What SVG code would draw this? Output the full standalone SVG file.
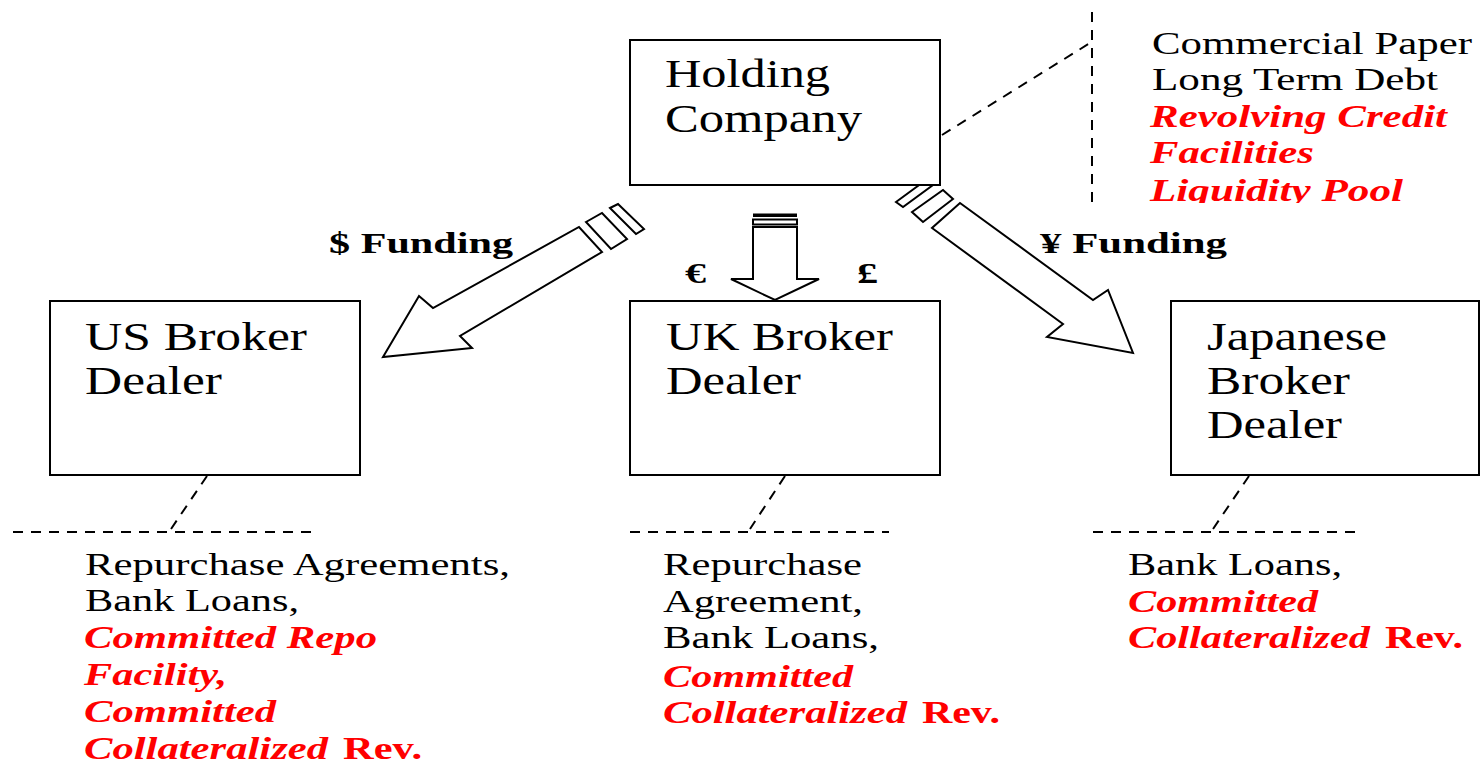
<svg xmlns="http://www.w3.org/2000/svg" width="1480" height="764" viewBox="0 0 1480 764">
<defs>
<style>
.box{fill:#fff;stroke:#000;stroke-width:2}
.arr{fill:#fff;stroke:#000;stroke-width:2;stroke-linejoin:miter}
.dash{fill:none;stroke:#000;stroke-width:2;stroke-dasharray:10 8}
.t{font-family:"Liberation Serif","Times New Roman",serif;fill:#000}
.lbl{font-size:40px}
.body{font-size:31px}
.red{fill:#ff0000;font-weight:bold;font-style:italic}
.redb{fill:#ff0000;font-weight:bold}
.bold{font-weight:bold;font-size:30px}
</style>
<clipPath id="clipTop"><rect x="1100" y="0" width="380" height="203"/></clipPath>
</defs>
<rect width="1480" height="764" fill="#fff"/>

<g id="connectors">
  <!-- dashed leaders -->
  <line class="dash" x1="1092" y1="12" x2="1092" y2="205"/>
  <line class="dash" x1="942" y1="135" x2="1090" y2="43"/>
  <line class="dash" x1="207" y1="476" x2="171" y2="529"/>
  <line class="dash" x1="13" y1="532" x2="318" y2="532"/>
  <line class="dash" x1="785" y1="476" x2="750" y2="529"/>
  <line class="dash" x1="630" y1="532" x2="889" y2="532"/>
  <line class="dash" x1="1249" y1="476" x2="1213" y2="529"/>
  <line class="dash" x1="1093" y1="532" x2="1355" y2="532"/>

  <!-- left striped arrow ($) -->
  <g id="arrow-usd">
    <polygon class="arr" points="383,357 419,296 433,308 579,227 602,252 460,336 472,348"/>
    <polygon class="arr" points="586,222 602,213 627,239 611,249"/>
    <polygon class="arr" points="610,208 618,204 644,229 636,234"/>
  </g>
  <!-- middle striped arrow (€ £) -->
  <g id="arrow-eur-gbp">
    <polygon class="arr" points="753,227 797,227 797,279 819,279 775,300 731,279 753,279"/>
    <rect class="arr" x="753" y="219.5" width="44" height="5"/>
    <rect x="753" y="213.5" width="44" height="3.5" fill="#000"/>
  </g>
  <!-- right striped arrow (¥) -->
  <g id="arrow-jpy">
    <polygon class="arr" points="960,203 1093,300 1108,290 1133,353 1047,337 1063,324 932,228"/>
    <polygon class="arr" points="912,212 943,190 953,199 923,222"/>
    <polygon class="arr" points="896,202 926,180 933,185 903,207"/>
  </g>
</g>

<g id="holding">
  <rect class="box" x="630" y="40" width="310" height="145"/>
  <text class="t lbl" x="665" y="87" textLength="165" lengthAdjust="spacingAndGlyphs">Holding</text>
  <text class="t lbl" x="665" y="132" textLength="197" lengthAdjust="spacingAndGlyphs">Company</text>
</g>

<g id="holding-funding" clip-path="url(#clipTop)">
  <text class="t body" x="1152" y="54" textLength="320" lengthAdjust="spacingAndGlyphs">Commercial Paper</text>
  <text class="t body" x="1152" y="90" textLength="286" lengthAdjust="spacingAndGlyphs">Long Term Debt</text>
  <text class="t body red" x="1150" y="127" textLength="297" lengthAdjust="spacingAndGlyphs">Revolving Credit</text>
  <text class="t body red" x="1150" y="163" textLength="164" lengthAdjust="spacingAndGlyphs">Facilities</text>
  <text class="t body red" x="1150" y="201" textLength="253" lengthAdjust="spacingAndGlyphs">Liquidity Pool</text>
</g>

<g id="currency-labels">
  <text class="t bold" x="329" y="253" textLength="184" lengthAdjust="spacingAndGlyphs">$ Funding</text>
  <text class="t bold" x="1040" y="253" textLength="187" lengthAdjust="spacingAndGlyphs">¥ Funding</text>
  <text class="t bold" x="685" y="283" textLength="21" lengthAdjust="spacingAndGlyphs">€</text>
  <text class="t bold" x="857" y="283" textLength="21" lengthAdjust="spacingAndGlyphs">£</text>
</g>

<g id="us-broker-dealer">
  <rect class="box" x="50" y="301" width="310" height="174"/>
  <text class="t lbl" x="85" y="350" textLength="222" lengthAdjust="spacingAndGlyphs">US Broker</text>
  <text class="t lbl" x="85" y="394" textLength="137" lengthAdjust="spacingAndGlyphs">Dealer</text>
</g>

<g id="uk-broker-dealer">
  <rect class="box" x="630" y="301" width="310" height="174"/>
  <text class="t lbl" x="666" y="350" textLength="227" lengthAdjust="spacingAndGlyphs">UK Broker</text>
  <text class="t lbl" x="666" y="394" textLength="135" lengthAdjust="spacingAndGlyphs">Dealer</text>
</g>

<g id="japanese-broker-dealer">
  <rect class="box" x="1171" y="301" width="308" height="174"/>
  <text class="t lbl" x="1207" y="350" textLength="180" lengthAdjust="spacingAndGlyphs">Japanese</text>
  <text class="t lbl" x="1207" y="394" textLength="143" lengthAdjust="spacingAndGlyphs">Broker</text>
  <text class="t lbl" x="1207" y="438" textLength="135" lengthAdjust="spacingAndGlyphs">Dealer</text>
</g>

<g id="us-funding">
  <text class="t body" x="85" y="575" textLength="425" lengthAdjust="spacingAndGlyphs">Repurchase Agreements,</text>
  <text class="t body" x="85" y="611" textLength="214" lengthAdjust="spacingAndGlyphs">Bank Loans,</text>
  <text class="t body red" x="84" y="648" textLength="293" lengthAdjust="spacingAndGlyphs">Committed Repo</text>
  <text class="t body red" x="84" y="685" textLength="143" lengthAdjust="spacingAndGlyphs">Facility,</text>
  <text class="t body red" x="84" y="722" textLength="192" lengthAdjust="spacingAndGlyphs">Committed</text>
  <text class="t body red" x="84" y="759" textLength="244" lengthAdjust="spacingAndGlyphs">Collateralized</text>
  <text class="t body redb" x="343" y="759" textLength="79" lengthAdjust="spacingAndGlyphs">Rev.</text>
</g>

<g id="uk-funding">
  <text class="t body" x="663" y="575" textLength="199" lengthAdjust="spacingAndGlyphs">Repurchase</text>
  <text class="t body" x="663" y="612" textLength="200" lengthAdjust="spacingAndGlyphs">Agreement,</text>
  <text class="t body" x="663" y="648" textLength="216" lengthAdjust="spacingAndGlyphs">Bank Loans,</text>
  <text class="t body red" x="663" y="687" textLength="190" lengthAdjust="spacingAndGlyphs">Committed</text>
  <text class="t body red" x="663" y="723" textLength="244" lengthAdjust="spacingAndGlyphs">Collateralized</text>
  <text class="t body redb" x="922" y="723" textLength="78" lengthAdjust="spacingAndGlyphs">Rev.</text>
</g>

<g id="japan-funding">
  <text class="t body" x="1128" y="575" textLength="214" lengthAdjust="spacingAndGlyphs">Bank Loans,</text>
  <text class="t body red" x="1128" y="612" textLength="190" lengthAdjust="spacingAndGlyphs">Committed</text>
  <text class="t body red" x="1128" y="648" textLength="242" lengthAdjust="spacingAndGlyphs">Collateralized</text>
  <text class="t body redb" x="1385" y="648" textLength="78" lengthAdjust="spacingAndGlyphs">Rev.</text>
</g>
</svg>
